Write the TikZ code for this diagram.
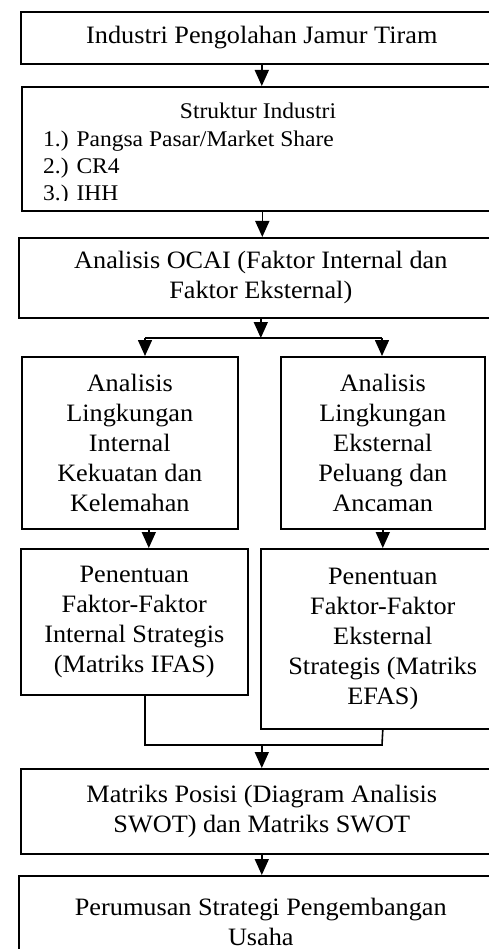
\documentclass[tikz,border=0pt]{standalone}
\usepackage{fontspec}
\setmainfont{Liberation Serif}[FakeStretch=1.05]
\usetikzlibrary{arrows.meta, positioning, calc}

\begin{document}
\begin{tikzpicture}[
  x=1pt, y=-1pt,
  font=\fontsize{25}{30}\selectfont,
  N/.style={
    draw, line width=1.6pt, anchor=north west,
    align=center, inner sep=0pt
  },
  small/.style={font=\fontsize{22.4}{27}\selectfont, inner sep=0pt},
  ln/.style={line width=1.6pt},
  arr/.style={-{Triangle[length=16pt, width=14pt]}, line width=1.6pt}
]
  \clip (0,0) rectangle (489,949);

  \node[N, minimum width=482, minimum height=52] (industri) at (20,11)
    {Industri Pengolahan Jamur Tiram};
  \node[N, minimum width=481, minimum height=124] (struktur) at (21,86) {};
  \begin{scope}
    \clip (21,86) rectangle (502,201);
    \node[small, anchor=base] (strukturjudul) at (258,119) {Struktur Industri};
    \foreach \t [count=\i] in {{1.) Pangsa Pasar/Market Share}, {2.) CR4}, {3.) IHH}}
      \node[small, anchor=base west] (item\i) at (43,120+27*\i) {\t};
  \end{scope}
  \node[N, minimum width=484, minimum height=80] (ocai) at (18,237)
    {Analisis OCAI (Faktor Internal dan\\Faktor Eksternal)};

  \node[N, minimum width=216, minimum height=172] (lingint) at (21,356)
    {Analisis\\Lingkungan\\Internal\\Kekuatan dan\\Kelemahan};
  \node[N, minimum width=204, minimum height=172] (lingeks) at (280,356)
    {Analisis\\Lingkungan\\Eksternal\\Peluang dan\\Ancaman};
  \node[N, minimum width=227, minimum height=146] (penint) at (20,548)
    {Penentuan\\Faktor-Faktor\\Internal Strategis\\(Matriks IFAS)};
  \node[N, minimum width=244, minimum height=180] (peneks) at (260,548)
    {Penentuan\\Faktor-Faktor\\Eksternal\\Strategis (Matriks\\EFAS)};

  \node[N, minimum width=482, minimum height=85] (swot) at (20,768)
    {Matriks Posisi (Diagram Analisis\\SWOT) dan Matriks SWOT};
  \node[N, minimum width=484, minimum height=92] (strategi) at (18,875)
    {Perumusan Strategi Pengembangan\\Usaha};

  \coordinate (pisahL) at (145,338);
  \coordinate (pisahR) at (382,338);
  \coordinate (gabungL) at (145,745);
  \coordinate (gabungR) at (382,745);

  \draw[arr] (industri.south) -- (industri.south |- struktur.north);
  \draw[arr] (struktur.south) -- (struktur.south |- ocai.north);
  \draw[arr] (ocai.south) -- (ocai.south |- pisahL);
  \draw[ln] (pisahL) -- (pisahR);
  \draw[arr] (pisahL) -- (pisahL |- lingint.north);
  \draw[arr] (pisahR) -- (pisahR |- lingeks.north);
  \draw[arr] ([xshift=19pt]lingint.south) -- ([xshift=19pt]lingint.south |- penint.north);
  \draw[arr] (lingeks.south) -- (lingeks.south |- peneks.north);
  \draw[ln] (gabungL |- penint.south) -- (gabungL) -- (gabungR) -- (peneks.south);
  \draw[arr] (swot.north |- gabungL) -- (swot.north);
  \draw[arr] (swot.south) -- (swot.south |- strategi.north);
\end{tikzpicture}
\end{document}
